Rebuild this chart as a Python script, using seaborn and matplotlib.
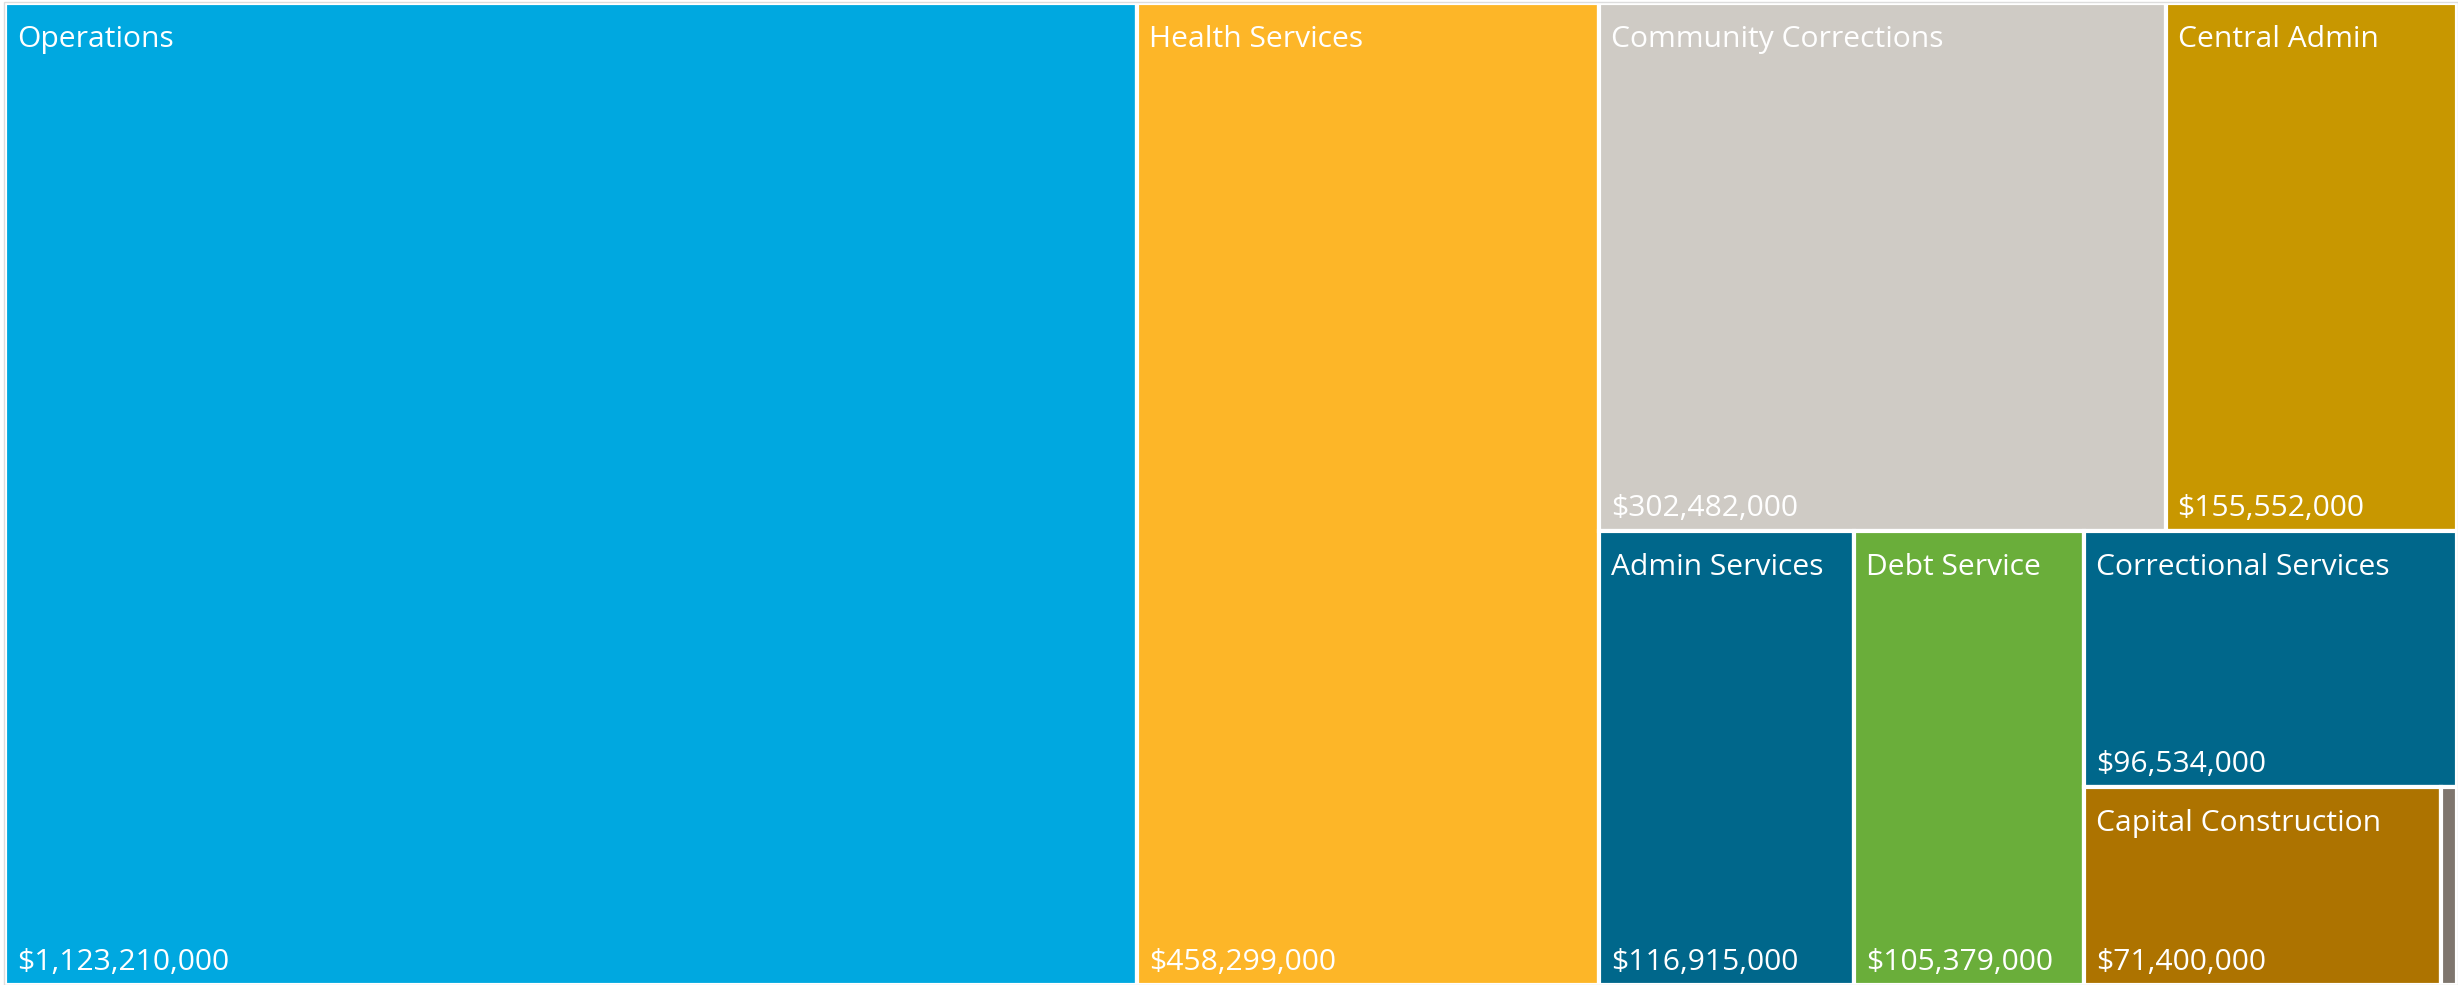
import matplotlib
matplotlib.use("Agg")
import matplotlib.pyplot as plt
from matplotlib.patches import Rectangle
import seaborn as sns

# budget by division (dollars), largest first
divisions = ["Operations", "Health Services", "Community Corrections", "Central Admin",
             "Admin Services", "Debt Service", "Correctional Services",
             "Capital Construction", "Other"]
budget = [1123210000, 458299000, 302482000, 155552000,
          116915000, 105379000, 96534000, 71400000, 3200000]
colors = ["#00A8E0", "#FDB628", "#CFCBC5", "#C89700",
          "#00678B", "#6AAE3A", "#00678B", "#AD7300", "#7F766E"]


def squarify(values, x0, y0, x1, y1, ratio=0.91):
    # d3-style squarified layout, rows placed along the shorter side
    rects = []
    value = float(sum(values))
    i0, n = 0, len(values)
    while i0 < n:
        dx, dy = x1 - x0, y1 - y0
        s = values[i0]
        mn = mx = s
        i1 = i0 + 1
        alpha = max(dy / dx, dx / dy) / (value * ratio)
        beta = s * s * alpha
        best = max(mx / beta, beta / mn)
        while i1 < n:
            v = values[i1]
            s2 = s + v
            beta = s2 * s2 * alpha
            r = max(max(mx, v) / beta, beta / min(mn, v))
            if r > best:
                break
            s, mn, mx, best = s2, min(mn, v), max(mx, v), r
            i1 += 1
        row = values[i0:i1]
        if dx < dy:
            h = dy * s / value
            x = x0
            for v in row:
                w = dx * v / s
                rects.append((x, y0, w, h))
                x += w
            y0 += h
        else:
            w = dx * s / value
            y = y0
            for v in row:
                h = dy * v / s
                rects.append((x0, y, w, h))
                y += h
            x0 += w
        value -= s
        i0 = i1
    return rects


sns.set_style("white")
plt.rcParams['font.family'] = ['Open Sans', 'DejaVu Sans']

FW, FH = 2458, 985
fig = plt.figure(figsize=(FW / 100, FH / 100), dpi=100)
ax_x0, ax_y0, ax_x1, ax_y1 = 5, 3, 2457, 985
ax = fig.add_axes([ax_x0 / FW, 1 - ax_y1 / FH, (ax_x1 - ax_x0) / FW, (ax_y1 - ax_y0) / FH])
W, H = ax_x1 - ax_x0, ax_y1 - ax_y0

tiles = squarify(budget, 0, 0, W, H)
xs = [t[0] for t in tiles]
ys = [t[1] for t in tiles]
ws = [t[2] for t in tiles]
hs = [t[3] for t in tiles]
ax.bar(xs, hs, width=ws, bottom=ys, align="edge", color=colors,
       edgecolor="white", linewidth=3)

for name, val, (x, y, w, h) in zip(divisions, budget, tiles):
    if w < 60:
        continue
    ax.text(x + 12, y + 44, name, color="white", fontsize=21.6, va="baseline", ha="left")
    ax.text(x + 12, y + h - 15, f"${val:,.0f}", color="white", fontsize=21.6,
            va="baseline", ha="left")

ax.set_xlim(0, W)
ax.set_ylim(H, 0)
ax.axis("off")

fig.patches.append(Rectangle((3.5 / FW, 1 - 984.5 / FH), 2454 / FW, 983 / FH,
                             transform=fig.transFigure, fill=False,
                             edgecolor="#DDDDDD", linewidth=1))

fig.savefig("out.png", dpi=100)
